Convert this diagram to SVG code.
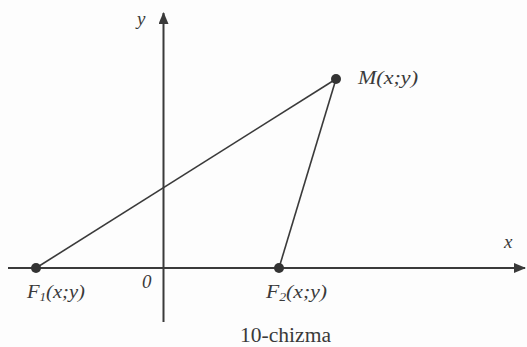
<svg xmlns="http://www.w3.org/2000/svg" width="527" height="347" viewBox="0 0 527 347">
  <style>
    .axis { stroke: #3a3a3a; stroke-width: 2; fill: none; }
    .edge { stroke: #3a3a3a; stroke-width: 1.6; fill: none; }
    .dot { fill: #333; }
    .lbl { font-family: 'Liberation Serif', 'DejaVu Serif', serif; font-style: italic; font-size: 19px; fill: #3a3a3a; }
    .cap { font-family: 'Liberation Serif', 'DejaVu Serif', serif; font-size: 20px; fill: #3a3a3a; }
  </style>
  <defs>
    <marker id="arr" viewBox="0 0 12 10" refX="11" refY="5" markerWidth="12" markerHeight="10" markerUnits="userSpaceOnUse" orient="auto">
      <path d="M0,0 L12,5 L0,10 Z" fill="#3a3a3a"/>
    </marker>
  </defs>
  <rect width="527" height="347" fill="#fdfdfd"/>
  <g id="axes">
    <line class="axis" x1="8" y1="268" x2="525" y2="268" marker-end="url(#arr)"/>
    <line class="axis" x1="163.5" y1="322" x2="163.5" y2="13" marker-end="url(#arr)"/>
    <text class="lbl" x="504" y="248">x</text>
    <text class="lbl" x="137" y="25">y</text>
    <text class="lbl" x="142" y="288">0</text>
  </g>
  <g id="connectors">
    <line class="edge" x1="36" y1="268" x2="336" y2="79"/>
    <line class="edge" x1="336" y1="79" x2="279" y2="268"/>
  </g>
  <g id="F1">
    <circle class="dot" cx="36" cy="268" r="5"/>
    <text class="lbl" x="27" y="298" textLength="58" lengthAdjust="spacingAndGlyphs">F<tspan font-size="12" dy="3">1</tspan><tspan dy="-3">(x;y)</tspan></text>
  </g>
  <g id="F2">
    <circle class="dot" cx="279" cy="268" r="5"/>
    <text class="lbl" x="266" y="298" textLength="61" lengthAdjust="spacingAndGlyphs">F<tspan font-size="12" dy="3">2</tspan><tspan dy="-3">(x;y)</tspan></text>
  </g>
  <g id="M">
    <circle class="dot" cx="336" cy="79" r="5"/>
    <text class="lbl" x="358" y="84" textLength="60" lengthAdjust="spacingAndGlyphs">M(x;y)</text>
  </g>
  <text class="cap" x="240" y="342" textLength="91" lengthAdjust="spacingAndGlyphs">10-chizma</text>
</svg>
